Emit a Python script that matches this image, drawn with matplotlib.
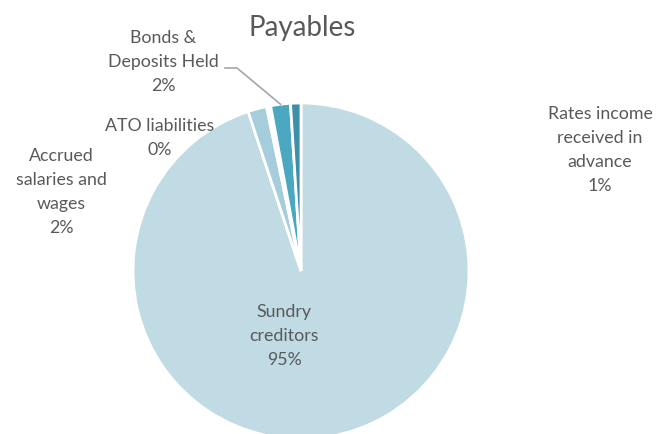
import numpy as np
import matplotlib
matplotlib.use("Agg")
import matplotlib.pyplot as plt

# --- DATA ---
labels = ["Sundry\ncreditors", "Accrued\nsalaries and\nwages", "ATO liabilities", "Bonds &\nDeposits Held", "Rates income\nreceived in\nadvance"]
values = [95.0, 1.8, 0.4, 1.9, 1.0]
pct_text = ["95%", "2%", "0%", "2%", "1%"]
colors = ["#c0dbe3", "#a6cddb", "#ffffff", "#4ba8c0", "#3e90a9"]

W, H = 658, 434
plt.rcParams['font.family'] = ['Lato', 'DejaVu Sans']
TXT = '#595959'

fig = plt.figure(figsize=(W / 100, H / 100), dpi=100, facecolor='white')
ax = fig.add_axes([0, 0, 1, 1])

cx, cy, r = 301, H - 271, 168
wedges, _ = ax.pie(values, colors=colors, startangle=90, counterclock=False,
                   center=(cx, cy), radius=r, frame=True,
                   wedgeprops={'edgecolor': 'white', 'linewidth': 2})
ax.set_xlim(0, W); ax.set_ylim(0, H); ax.set_aspect('equal'); ax.set_axis_off()

# labels (pixel positions, y from top)
lab_pos = [(284, 336), (61, 192), (160, 138), (163, 62), (600, 150)]
for lab, pct, (x, y) in zip(labels, pct_text, lab_pos):
    ax.text(x, H - y, lab + "\n" + pct, ha='center', va='center', fontsize=12.8,
            color=TXT, linespacing=1.62)

# leader line for Bonds & Deposits Held
w = wedges[3]
ang = np.deg2rad((w.theta1 + w.theta2) / 2)
ex, ey = cx + r * np.cos(ang), cy + r * np.sin(ang)
ax.plot([225, 237, ex], [H - 68, H - 68, ey], color='#a6a6a6', lw=1.2)

ax.text(302, H - 28, "Payables", ha='center', va='center', fontsize=20, color=TXT)

fig.savefig("out.png", dpi=100, facecolor='white')
